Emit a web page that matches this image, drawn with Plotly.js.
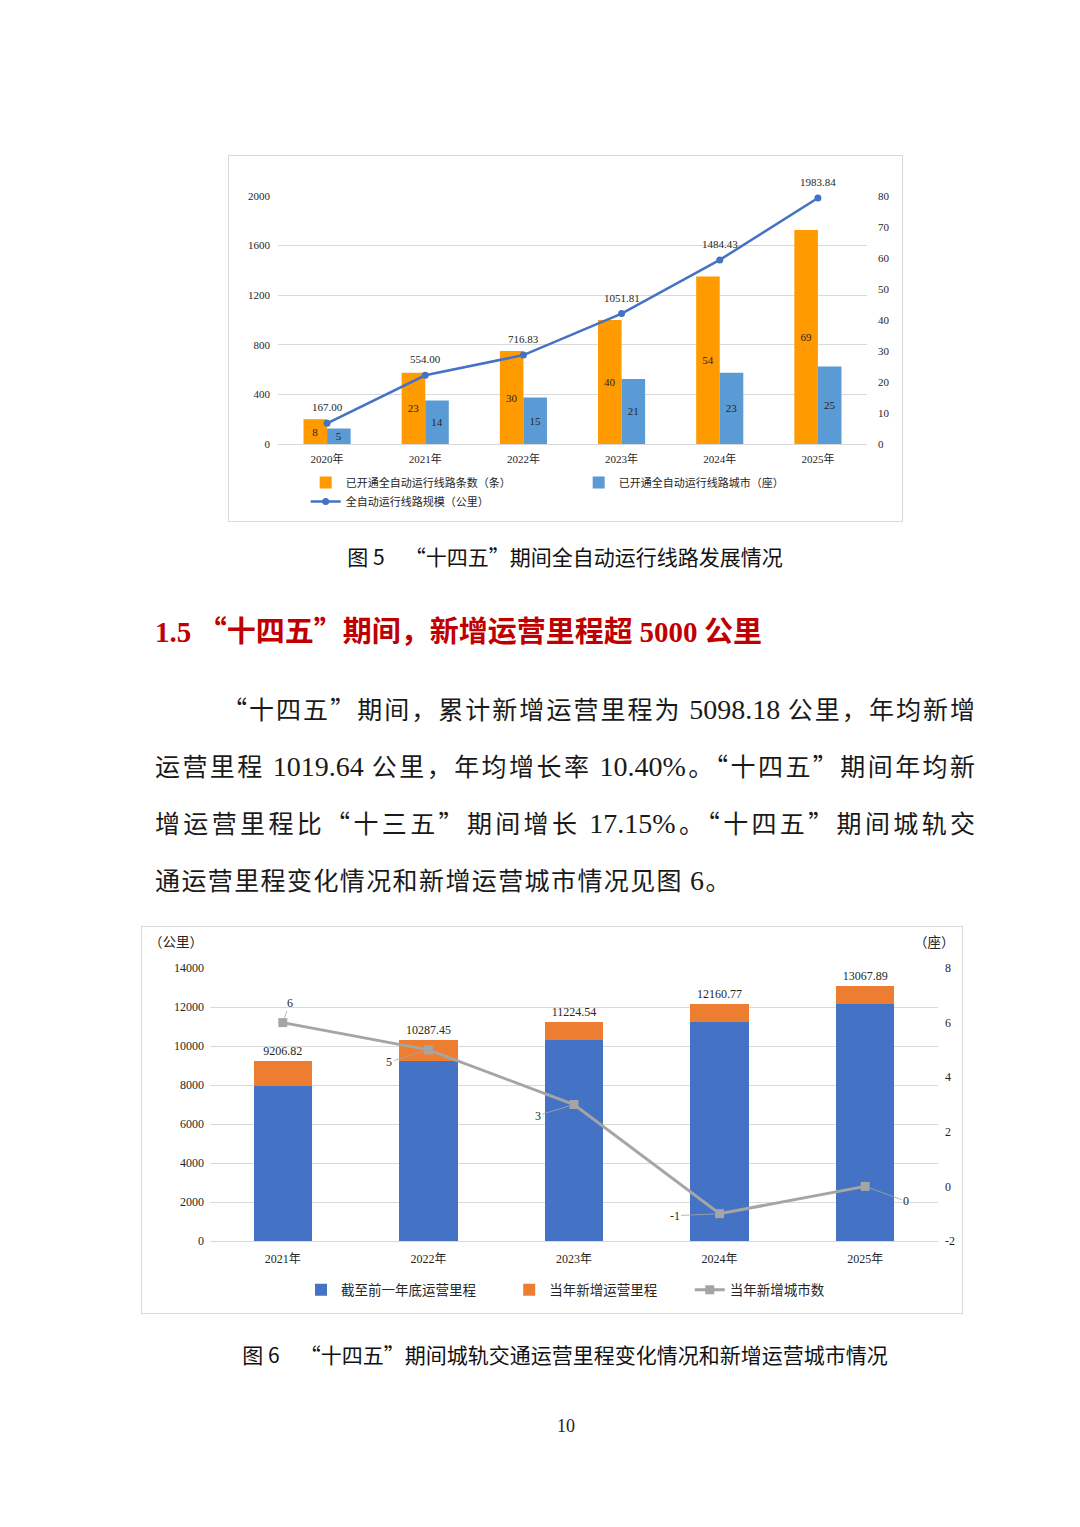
<!DOCTYPE html>
<html>
<head>
<meta charset="utf-8">
<script src="https://cdn.plot.ly/plotly-3.0.1.min.js"></script>
<style>
  body { margin: 0; background: #fff; }
  #page { position: relative; width: 1080px; height: 1527px; background: #fff; overflow: hidden; }
  .box { position: absolute; border: 1px solid #d9d9d9; box-sizing: border-box; }
  .cap { position: absolute; left: 0; width: 1130px; text-align: center; font-family: "Noto Sans CJK SC", sans-serif; font-size: 21px; color: #111; }
  .gap { display: inline-block; width: 20px; }
  .n { font-family: "Liberation Serif", serif; }
  #heading { position: absolute; left: 155px; top: 608px; font-family: "Noto Sans CJK SC", sans-serif; font-weight: bold; font-size: 29px; color: #c00000; white-space: nowrap; }
  #heading .n { font-size: 29px; }
  .para { position: absolute; left: 155px; width: 820px; font-family: "Noto Sans CJK SC", sans-serif; font-size: 25px; color: #1a1a1a; white-space: nowrap; }
  .para .n { font-size: 28px; }
  .just { text-align: justify; text-align-last: justify; }
  #pagenum { position: absolute; left: 0; width: 1132px; top: 1416px; text-align: center; font-family: "Liberation Serif", serif; font-size: 18px; color: #222; }
</style>
</head>
<body>
<div id="page">
  <div class="box" style="left:228px;top:155px;width:675px;height:367px;"></div>
  <div id="chart5" style="position:absolute;left:228px;top:155px;width:675px;height:367px;"></div>
  <div class="cap" style="top:541px;">图 5<span class="gap"></span>“十四五”期间全自动运行线路发展情况</div>

  <div id="heading"><span class="n">1.5</span> “十四五”期间，新增运营里程超 <span class="n">5000</span> 公里</div>

  <div class="para just" style="top:690px;left:222px;width:753px;">“十四五”期间，累计新增运营里程为 <span class="n">5098.18</span> 公里，年均新增</div>
  <div class="para just" style="top:747px;">运营里程 <span class="n">1019.64</span> 公里，年均增长率 <span class="n">10.40%</span>。“十四五”期间年均新</div>
  <div class="para just" style="top:804px;">增运营里程比“十三五”期间增长 <span class="n">17.15%</span>。“十四五”期间城轨交</div>
  <div class="para" style="top:861px;letter-spacing:1.4px;">通运营里程变化情况和新增运营城市情况见图 <span class="n">6</span>。</div>

  <div class="box" style="left:141px;top:926px;width:822px;height:388px;"></div>
  <div id="chart6" style="position:absolute;left:141px;top:926px;width:822px;height:388px;"></div>
  <div class="cap" style="top:1339px;">图 6<span class="gap"></span>“十四五”期间城轨交通运营里程变化情况和新增运营城市情况</div>

  <div id="pagenum">10</div>
</div>

<script>
// Figure 5: fully automatic lines
const years5 = ["2020年", "2021年", "2022年", "2023年", "2024年", "2025年"];
const autoLines = [8, 23, 30, 40, 54, 69];
const autoCities = [5, 14, 15, 21, 23, 25];
const autoMileage = [167.00, 554.00, 716.83, 1051.81, 1484.43, 1983.84];

// Figure 6: operating mileage and new cities
const years6 = ["2021年", "2022年", "2023年", "2024年", "2025年"];
const prevYearEnd = [7969.71, 9206.82, 10287.45, 11224.54, 12160.77];
const newMileage = [1237.11, 1080.63, 937.09, 936.23, 907.12];
const yearTotal = [9206.82, 10287.45, 11224.54, 12160.77, 13067.89];
const newCities = [6, 5, 3, -1, 0];
const cityTicks = [-2, 0, 2, 4, 6, 8];

const FONT = '"Liberation Serif", "Noto Sans CJK SC", serif';
const INK = "#262626";

const config = { responsive: false, displayModeBar: false, staticPlot: true };

// ---- chart 5 ----
const barText = { family: FONT, size: 11, color: INK };

const lines5 = {
  type: "bar",
  x: years5,
  y: autoLines,
  yaxis: "y",
  name: "已开通全自动运行线路条数（条）",
  marker: { color: "#ff9a00" },
  text: autoLines.map(String),
  textposition: "inside",
  insidetextanchor: "middle",
  textangle: 0,
  constraintext: "none",
  textfont: barText,
};

const cities5 = {
  type: "bar",
  x: years5,
  y: autoCities,
  yaxis: "y",
  name: "已开通全自动运行线路城市（座）",
  marker: { color: "#5b9bd5" },
  text: autoCities.map(String),
  textposition: "inside",
  insidetextanchor: "middle",
  textangle: 0,
  constraintext: "none",
  textfont: barText,
};

const mileage5 = {
  type: "scatter",
  mode: "lines+markers",
  x: years5,
  y: autoMileage,
  yaxis: "y2",
  name: "全自动运行线路规模（公里）",
  line: { color: "#4472c4", width: 2.5 },
  marker: { color: "#4472c4", size: 7, symbol: "circle" },
  cliponaxis: false,
};

// value labels above the line points
const mileageLabels = autoMileage.map((v, i) => ({
  x: years5[i],
  y: v,
  xref: "x",
  yref: "y2",
  text: v.toFixed(2),
  showarrow: false,
  yanchor: "middle",
  yshift: 16,
  font: barText,
}));

const layout5 = {
  width: 675,
  height: 367,
  margin: { t: 41, l: 50, r: 36, b: 78, autoexpand: false },
  paper_bgcolor: "rgba(0,0,0,0)",
  plot_bgcolor: "rgba(0,0,0,0)",
  font: { family: FONT, size: 11, color: INK },
  barmode: "group",
  bargap: 0.52,
  bargroupgap: 0,
  showlegend: true,
  legend: {
    orientation: "h",
    x: 0.047,
    xanchor: "left",
    y: -0.097,
    yanchor: "top",
    entrywidth: 228,
    entrywidthmode: "pixels",
    itemwidth: 30,
    font: { family: FONT, size: 11, color: INK },
    traceorder: "normal",
  },
  xaxis: {
    type: "category",
    showgrid: false,
    showline: false,
    ticks: "",
    ticklabelstandoff: 7,
    tickfont: { family: FONT, size: 11, color: INK },
  },
  yaxis: {
    side: "right",
    range: [0, 80],
    dtick: 10,
    showgrid: false,
    zeroline: false,
    ticks: "",
    ticklabelstandoff: 10,
    tickfont: { family: FONT, size: 11, color: INK },
  },
  yaxis2: {
    overlaying: "y",
    side: "left",
    range: [0, 2000],
    dtick: 400,
    tickformat: "d",
    showgrid: true,
    gridcolor: "#d9d9d9",
    zeroline: true,
    zerolinecolor: "#d9d9d9",
    ticks: "",
    ticklabelstandoff: 7,
    tickfont: { family: FONT, size: 11, color: INK },
  },
  annotations: mileageLabels,
};

Plotly.newPlot("chart5", [lines5, cities5, mileage5], layout5, config);

// ---- chart 6 ----
const prev6 = {
  type: "bar",
  x: years6,
  y: prevYearEnd,
  name: "截至前一年底运营里程",
  legend: "legend",
  marker: { color: "#4472c4" },
};

const added6 = {
  type: "bar",
  x: years6,
  y: newMileage,
  name: "当年新增运营里程",
  legend: "legend2",
  marker: { color: "#ed7d31" },
  text: yearTotal.map(v => v.toFixed(2)),
  textposition: "outside",
  textangle: 0,
  textfont: { family: FONT, size: 12, color: INK },
  cliponaxis: false,
};

const cities6 = {
  type: "scatter",
  mode: "lines+markers",
  x: years6,
  y: newCities,
  yaxis: "y2",
  name: "当年新增城市数",
  legend: "legend3",
  line: { color: "#a5a5a5", width: 3 },
  marker: { color: "#a5a5a5", size: 9, symbol: "square" },
  cliponaxis: false,
};

// Excel-style data labels with leader lines
const labelOffsets = [[7, -20], [-39, 12], [-36, 11], [-45, 2], [41, 15]];
const cityLabels = newCities.map((v, i) => ({
  x: years6[i],
  y: v,
  xref: "x",
  yref: "y2",
  text: String(v),
  showarrow: true,
  arrowhead: 0,
  arrowwidth: 0.8,
  arrowcolor: "#a6a6a6",
  standoff: 5,
  ax: labelOffsets[i][0],
  ay: labelOffsets[i][1],
  font: { family: FONT, size: 12, color: INK },
}));

const unitLabels = [
  { xref: "paper", yref: "paper", x: -0.086, xanchor: "left", y: 1.095, yanchor: "middle",
    text: "（公里）", showarrow: false, font: { family: FONT, size: 13.5, color: INK } },
  { xref: "paper", yref: "paper", x: 1.026, xanchor: "right", y: 1.095, yanchor: "middle",
    text: "（座）", showarrow: false, font: { family: FONT, size: 13.5, color: INK } },
];

const legend6 = {
  orientation: "h",
  xanchor: "left",
  y: -0.123,
  yanchor: "top",
  itemwidth: 30,
  font: { family: FONT, size: 13.5, color: INK },
};

const layout6 = {
  width: 822,
  height: 388,
  margin: { t: 42, l: 69, r: 25, b: 73, autoexpand: false },
  paper_bgcolor: "rgba(0,0,0,0)",
  plot_bgcolor: "rgba(0,0,0,0)",
  font: { family: FONT, size: 12, color: INK },
  barmode: "stack",
  bargap: 0.6,
  showlegend: true,
  legend: Object.assign({}, legend6, { x: 0.125 }),
  legend2: Object.assign({}, legend6, { x: 0.411 }),
  legend3: Object.assign({}, legend6, { x: 0.659 }),
  xaxis: {
    type: "category",
    showgrid: false,
    showline: false,
    ticks: "",
    ticklabelstandoff: 9,
    tickfont: { family: FONT, size: 12, color: INK },
  },
  yaxis: {
    range: [0, 14000],
    dtick: 2000,
    tickformat: "d",
    showgrid: true,
    gridcolor: "#d9d9d9",
    zeroline: true,
    zerolinecolor: "#d9d9d9",
    ticks: "",
    ticklabelstandoff: 5,
    tickfont: { family: FONT, size: 12, color: INK },
  },
  yaxis2: {
    overlaying: "y",
    side: "right",
    range: [-2, 8],
    tickmode: "array",
    tickvals: cityTicks,
    ticktext: cityTicks.map(String),
    showgrid: false,
    zeroline: false,
    ticks: "",
    ticklabelstandoff: 6,
    tickfont: { family: FONT, size: 12, color: INK },
  },
  annotations: cityLabels.concat(unitLabels),
};

Plotly.newPlot("chart6", [prev6, added6, cities6], layout6, config);
</script>
</body>
</html>
